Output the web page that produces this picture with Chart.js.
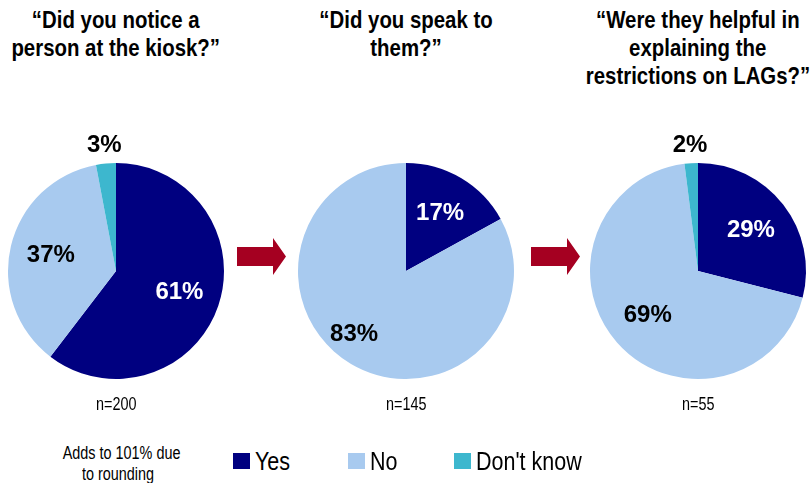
<!DOCTYPE html>
<html>
<head>
<meta charset="utf-8">
<script src="https://cdn.jsdelivr.net/npm/chart.js@4.4.1/dist/chart.umd.min.js"></script>
<style>
    body {
        margin: 0;
        width: 811px;
        height: 483px;
        background: #fff;
        position: relative;
        overflow: hidden;
        font-family: "Liberation Sans", Arial, sans-serif;
        color: #000;
    }
    .pie-box {
        position: absolute;
        width: 240px;
        height: 280px;
    }
    /* narrow look: plain Arial-like face squeezed horizontally */
    .squeeze {
        display: inline-block;
        white-space: nowrap;
    }
    .title {
        position: absolute;
        top: 6px;
        width: 300px;
        text-align: center;
        font-weight: bold;
        font-size: 24px;
        line-height: 28px;
    }
    .title .squeeze { transform: scaleX(0.85); transform-origin: center; }
    .count {
        position: absolute;
        top: 394px;
        width: 120px;
        text-align: center;
        font-size: 18px;
        line-height: 20px;
    }
    .count .squeeze { transform: scaleX(0.8); transform-origin: center; }
    #note {
        position: absolute;
        left: 48px;
        top: 443px;
        width: 140px;
        text-align: center;
        font-size: 18px;
        line-height: 21px;
    }
    #note .squeeze { transform: scaleX(0.8); transform-origin: center; }
    .legend-item {
        position: absolute;
        top: 447px;
        height: 28px;
        white-space: nowrap;
        font-size: 25px;
        line-height: 28px;
    }
    .legend-item .box {
        position: absolute;
        left: 0;
        top: 6px;
        width: 17px;
        height: 16px;
    }
    .legend-item .squeeze {
        position: absolute;
        left: 22px;
        top: 0;
        transform: scaleX(0.86);
        transform-origin: left;
    }
    #arrows {
        position: absolute;
        left: 0;
        top: 0;
    }
</style>
</head>
<body>

<svg id="arrows" width="811" height="483"></svg>
<div id="note"><span class="squeeze">Adds to 101% due</span><br><span class="squeeze">to rounding</span></div>

<script>
// answer categories shared by the three pies
const answers = ["Yes", "No", "Don't know"];
const answerColors = ["#000080", "#A8CAEF", "#3DB7CE"];
const labelColors = ["#ffffff", "#000000", "#000000"];

// the three survey questions
const questions = [
    ["\u201CDid you notice a", "person at the kiosk?\u201D"],
    ["\u201CDid you speak to", "them?\u201D"],
    ["\u201CWere they helpful in", "explaining the", "restrictions on LAGs?\u201D"]
];

// percentages per question, in the order of answers
const noticedPerson = [61, 37, 3];
const spokeToThem = [17, 83, 0];
const wereHelpful = [29, 69, 2];

// base sizes
const sampleSizes = ["n=200", "n=145", "n=55"];

const pieData = [noticedPerson, spokeToThem, wereHelpful];
const pieCenters = [116, 406, 698];
const pieCenterY = 271;

/**
 * writes "61%" style labels on every slice, small slices go outside
 */
const sliceLabels = {
    id: 'sliceLabels',
    afterDatasetsDraw(chart) {
        const ctx = chart.ctx;
        const meta = chart.getDatasetMeta(0);
        const values = chart.data.datasets[0].data;
        ctx.save();
        ctx.font = 'bold 24px "Liberation Sans", Arial, sans-serif';
        ctx.textAlign = 'center';
        ctx.textBaseline = 'middle';
        meta.data.forEach((arc, i) => {
            const value = values[i];
            if (!value) return;
            const p = arc.getProps(['x', 'y', 'startAngle', 'endAngle', 'outerRadius'], true);
            // big slices: nudge the label a little clockwise and further out
            const mid = (p.startAngle + p.endAngle) / 2 + (value > 75 ? 0.15 : 0);
            const outside = value < 5;
            const dist = p.outerRadius * (outside ? 1.17 : (value > 75 ? 0.76 : 0.62));
            ctx.fillStyle = outside ? '#000' : labelColors[i];
            ctx.fillText(value + '%', p.x + Math.cos(mid) * dist, p.y + Math.sin(mid) * dist);
        });
        ctx.restore();
    }
};

const squeezed = text => '<span class="squeeze">' + text + '</span>';

pieData.forEach((values, idx) => {
    const cx = pieCenters[idx];

    const box = document.createElement('div');
    box.className = 'pie-box';
    box.style.left = (cx - 120) + 'px';
    box.style.top = (pieCenterY - 140) + 'px';
    const canvas = document.createElement('canvas');
    box.appendChild(canvas);
    document.body.appendChild(box);

    const title = document.createElement('div');
    title.className = 'title';
    title.style.left = (cx - 150) + 'px';
    title.innerHTML = questions[idx].map(squeezed).join('<br>');
    document.body.appendChild(title);

    const count = document.createElement('div');
    count.className = 'count';
    count.style.left = (cx - 60) + 'px';
    count.innerHTML = squeezed(sampleSizes[idx]);
    document.body.appendChild(count);

    new Chart(canvas, {
        type: 'pie',
        data: {
            labels: answers,
            datasets: [{
                data: values,
                backgroundColor: answerColors,
                borderWidth: 0,
                hoverOffset: 0
            }]
        },
        options: {
            responsive: true,
            maintainAspectRatio: false,
            animation: false,
            layout: { padding: 12 },
            plugins: {
                legend: { display: false },
                tooltip: { enabled: false }
            }
        },
        plugins: [sliceLabels]
    });
});

// red arrows between the pies
const arrowsSvg = document.getElementById('arrows');
[237, 531].forEach(x => {
    const poly = document.createElementNS('http://www.w3.org/2000/svg', 'polygon');
    const pts = [
        [x, 247], [x + 36, 247], [x + 36, 238], [x + 49, 256.5],
        [x + 36, 275], [x + 36, 266], [x, 266]
    ];
    poly.setAttribute('points', pts.map(p => p.join(',')).join(' '));
    poly.setAttribute('fill', '#A50021');
    arrowsSvg.appendChild(poly);
});

// shared legend
const legendLefts = [233, 348, 454];
answers.forEach((name, i) => {
    const item = document.createElement('div');
    item.className = 'legend-item';
    item.style.left = legendLefts[i] + 'px';
    item.innerHTML = '<div class="box" style="background:' + answerColors[i] + '"></div>' + squeezed(name);
    document.body.appendChild(item);
});
</script>
</body>
</html>
